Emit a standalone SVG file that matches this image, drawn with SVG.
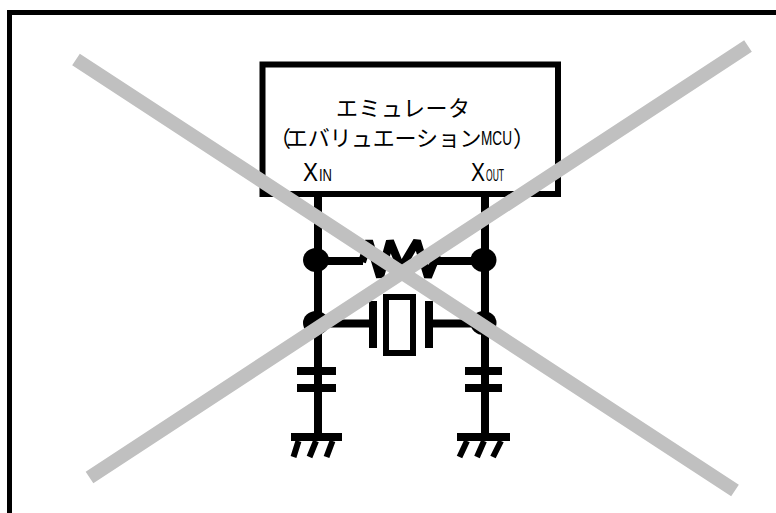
<svg xmlns="http://www.w3.org/2000/svg" width="776" height="513" viewBox="0 0 776 513">
<style>
.w{fill:none;stroke:#000;stroke-width:8}
.t{font-family:"Noto Sans CJK JP","Noto Sans",sans-serif;font-size:22px;fill:#000}
.l{font-family:"Liberation Sans",sans-serif;fill:#000}
.x{fill:none;stroke:#c0c0c0;stroke-width:14}
.d{fill:#000}
</style>
<rect width="776" height="513" fill="#fff"/>
<path id="frame" d="M9.500 513V12.500H776" fill="none" stroke="#000" stroke-width="5"/>
<g id="connectors">
<path class="w" d="M318 194V433M485 194V433M318 261H363M485 261H437M318 323.500H373M485 323.500H429"/>
<path class="w" stroke-width="9" stroke-linejoin="bevel" d="M362 262L369 241L380 277L390 241L401 268L417 241L428 277L437 255"/>
<path class="w" d="M373 301V348M429 301V348M297 371H336M297 388H336M465 371H502M465 388H502"/>
<path class="w" d="M291 437H342M457 437H510"/>
<path fill="none" stroke="#000" stroke-width="6" d="M298.500 441L293.500 457M316 441L309.500 457M332.500 441L326.500 457M467 441L459.500 457M484 441L477 457M501 441L493 457"/>
<ellipse class="d" cx="316" cy="260" rx="13" ry="12"/>
<ellipse class="d" cx="483.500" cy="260" rx="13" ry="12"/>
<ellipse class="d" cx="316" cy="323" rx="13" ry="12"/>
<ellipse class="d" cx="483.500" cy="323" rx="13" ry="12"/>
</g>
<g id="emulator">
<rect x="262.500" y="64.500" width="295.500" height="129.500" fill="#fff" stroke="#000" stroke-width="6"/>
<text class="t" x="336 358.500 381 403 425.500 448" y="116">エミュレータ</text>
<text class="t" x="269 286 307.700 329.400 351 372.800 394.500 416 438 459.500" y="145.500">（エバリュエーション</text>
<text class="l" x="481" y="145" font-size="21" textLength="31" lengthAdjust="spacingAndGlyphs">MCU</text>
<text class="t" x="513" y="145.500">）</text>
<text class="l" x="303" y="181" font-size="26" textLength="15" lengthAdjust="spacingAndGlyphs">X</text>
<text class="l" x="319" y="181" font-size="17" textLength="13" lengthAdjust="spacingAndGlyphs">IN</text>
<text class="l" x="471" y="181" font-size="26" textLength="14" lengthAdjust="spacingAndGlyphs">X</text>
<text class="l" x="486" y="181" font-size="17" textLength="18" lengthAdjust="spacingAndGlyphs">OUT</text>
</g>
<g id="crystal">
<rect x="386" y="297" width="27" height="56" fill="#fff" stroke="#000" stroke-width="6"/>
</g>
<g id="cross">
<path class="x" d="M76 59.500L735 490.500M89.500 477.500L748 46"/>
</g>
</svg>
